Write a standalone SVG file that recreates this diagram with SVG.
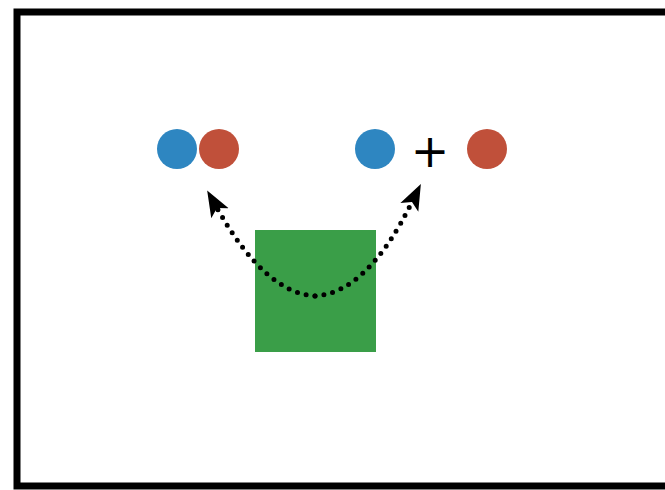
<svg xmlns="http://www.w3.org/2000/svg" width="665" height="490" viewBox="0 0 665 490">
<style>
.blue{fill:#2e86c1}
.red{fill:#c0503a}
.conn{fill:none;stroke:#000;stroke-width:5;stroke-linecap:round;stroke-dasharray:0 9}
</style>
<defs>
<marker id="ah" viewBox="0 0 26 22" refX="6" refY="11" markerWidth="26" markerHeight="22" markerUnits="userSpaceOnUse" orient="auto">
<path d="M0,1 L26,11 L0,21 L6,11 Z" fill="#000"/>
</marker>
</defs>
<rect x="0" y="0" width="665" height="490" fill="#fff"/>
<rect x="17" y="12" width="660" height="474" fill="none" stroke="#000" stroke-width="7"/>
<g id="pair-blue"><circle class="blue" cx="177" cy="149" r="20"/></g>
<g id="pair-red"><circle class="red" cx="219" cy="149" r="20"/></g>
<g id="sep-blue"><circle class="blue" cx="375" cy="149" r="20"/></g>
<g id="plus"><text x="430" y="167" font-family="DejaVu Sans, sans-serif" font-size="46" text-anchor="middle" fill="#000">+</text></g>
<g id="sep-red"><circle class="red" cx="487" cy="149" r="20"/></g>
<g id="square"><rect x="255" y="230" width="121" height="122" fill="#3a9e48"/></g>
<g id="connectors">
<path class="conn" d="M315,296 Q265,293 217,208" marker-end="url(#ah)"/>
<path class="conn" d="M315,296 Q367,293 412,202" marker-end="url(#ah)"/>
</g>
</svg>
